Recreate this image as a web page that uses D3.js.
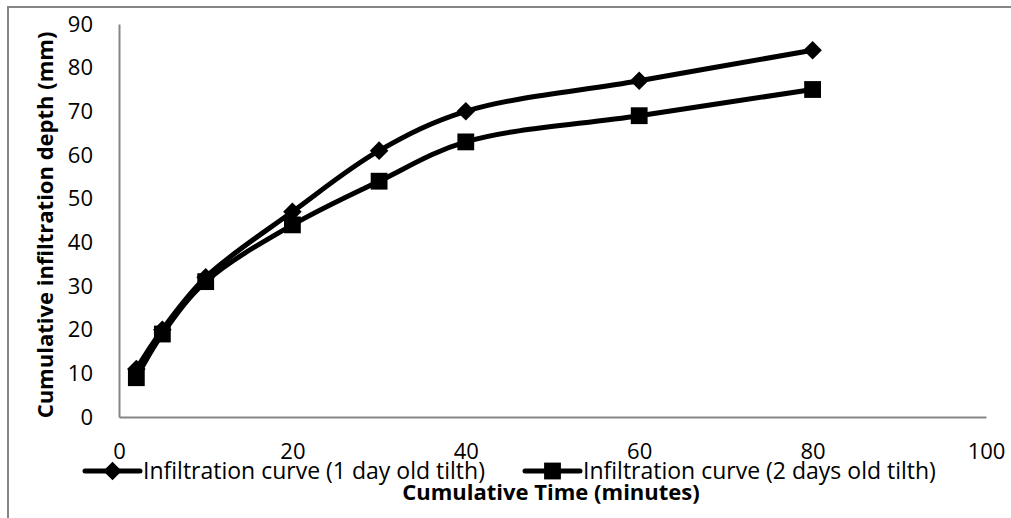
<!DOCTYPE html>
<html>
<head>
<meta charset="utf-8">
<script src="https://cdn.jsdelivr.net/npm/d3@7"></script>
<style>
  body { margin: 0; background: #fff; }
  svg { display: block; font-family: "Open Sans", sans-serif; }
</style>
</head>
<body>
<div id="chart"></div>
<script>
// data
var times = [2, 5, 10, 20, 30, 40, 60, 80];
var oneDay = [11, 20, 32, 47, 61, 70, 77, 84];
var twoDays = [9, 19, 31, 44, 54, 63, 69, 75];
var seriesNames = ["Infiltration curve (1 day old tilth)", "Infiltration curve (2 days old tilth)"];
var xTicks = [0, 20, 40, 60, 80, 100];
var yTicks = [0, 10, 20, 30, 40, 50, 60, 70, 80, 90];

var width = 1011, height = 518;
var margin = { top: 24, right: 25, bottom: 101, left: 119 };

var svg = d3.select("#chart").append("svg")
  .attr("width", width)
  .attr("height", height);

// outer chart border
svg.append("rect")
  .attr("x", 8).attr("y", 7)
  .attr("width", width + 20).attr("height", height + 20)
  .attr("fill", "none")
  .attr("stroke", "#868686")
  .attr("stroke-width", 2);

var x = d3.scaleLinear().domain([0, 100]).range([margin.left, width - margin.right]);
var y = d3.scaleLinear().domain([0, 90]).range([height - margin.bottom, margin.top]);

// axes
var xAxis = svg.append("g")
  .attr("transform", "translate(0," + y(0) + ")")
  .call(d3.axisBottom(x).tickValues(xTicks).tickSize(0).tickPadding(26));

var yAxis = svg.append("g")
  .attr("transform", "translate(" + x(0) + ",0)")
  .call(d3.axisLeft(y).tickValues(yTicks).tickSize(0).tickPadding(26));

[xAxis, yAxis].forEach(function(g) {
  g.select(".domain").attr("stroke", "#868686").attr("stroke-width", 2);
  g.selectAll("text")
    .attr("fill", "#000")
    .style("font-size", "22px")
    .style("font-family", "'Open Sans', sans-serif");
});

// axis titles
svg.append("text")
  .attr("x", 551).attr("y", 500)
  .attr("text-anchor", "middle")
  .style("font-size", "22px")
  .style("font-weight", "bold")
  .text("Cumulative Time (minutes)");

svg.append("text")
  .attr("transform", "translate(53,225) rotate(-90)")
  .attr("text-anchor", "middle")
  .style("font-size", "22px")
  .style("font-weight", "bold")
  .text("Cumulative infiltration depth (mm)");

// lines
var line = d3.line()
  .x(function(d) { return x(d[0]); })
  .y(function(d) { return y(d[1]); })
  .curve(d3.curveCatmullRom.alpha(0.5));

var diamond = d3.symbol().type(d3.symbolDiamond2).size(220);
var square = d3.symbol().type(d3.symbolSquare2).size(360);

function drawSeries(values, marker) {
  var pts = times.map(function(t, i) { return [t, values[i]]; });
  svg.append("path")
    .datum(pts)
    .attr("fill", "none")
    .attr("stroke", "#000")
    .attr("stroke-width", 5)
    .attr("d", line);

  svg.selectAll(null)
    .data(pts)
    .enter().append("path")
    .attr("transform", function(d) { return "translate(" + x(d[0]) + "," + y(d[1]) + ")"; })
    .attr("d", marker)
    .attr("fill", "#000");
}

drawSeries(oneDay, diamond);
drawSeries(twoDays, square);

// legend
var legendY = 471;
var legendItems = [
  { name: seriesNames[0], marker: diamond, x0: 85 },
  { name: seriesNames[1], marker: square, x0: 525 }
];

legendItems.forEach(function(item) {
  svg.append("line")
    .attr("x1", item.x0).attr("x2", item.x0 + 55)
    .attr("y1", legendY).attr("y2", legendY)
    .attr("stroke", "#000")
    .attr("stroke-width", 5)
    .attr("stroke-linecap", "round");
  svg.append("path")
    .attr("transform", "translate(" + (item.x0 + 27.5) + "," + legendY + ")")
    .attr("d", item.marker)
    .attr("fill", "#000");
  svg.append("text")
    .attr("x", item.x0 + 58)
    .attr("y", legendY)
    .attr("dy", "0.35em")
    .style("font-size", "23px")
    .text(item.name);
});
</script>
</body>
</html>
